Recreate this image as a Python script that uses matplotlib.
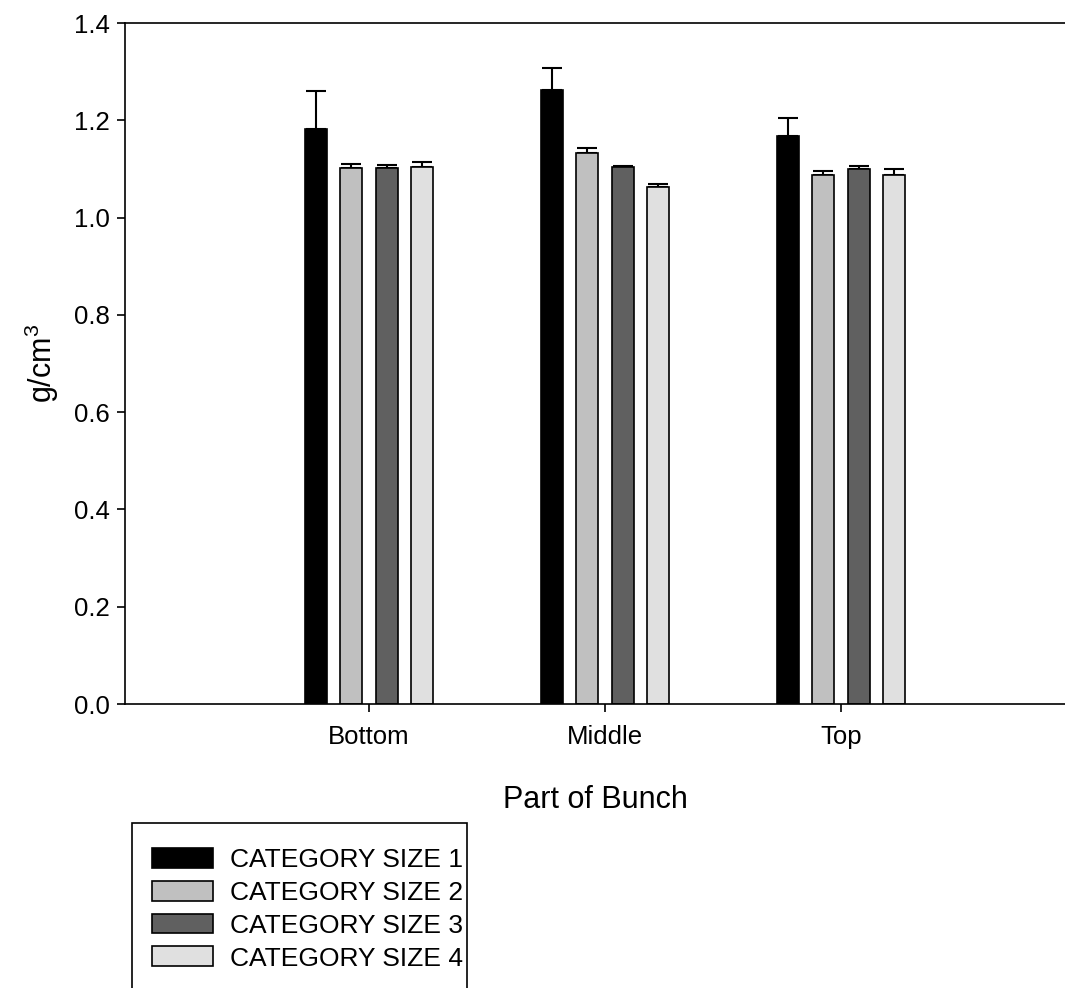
import matplotlib
matplotlib.use("Agg")
import matplotlib.pyplot as plt
import numpy as np
from matplotlib.patches import Rectangle

plt.rcParams['font.family'] = ['Liberation Sans', 'DejaVu Sans']
plt.rcParams['mathtext.fontset'] = 'custom'
plt.rcParams['mathtext.rm'] = 'Liberation Sans'
plt.rcParams['mathtext.it'] = 'Liberation Sans:italic'

categories = ["Bottom", "Middle", "Top"]
series_names = ["CATEGORY SIZE 1", "CATEGORY SIZE 2", "CATEGORY SIZE 3", "CATEGORY SIZE 4"]
size1 = [1.182, 1.262, 1.167]
size2 = [1.102, 1.133, 1.087]
size3 = [1.101, 1.103, 1.099]
size4 = [1.104, 1.063, 1.088]
err1 = [0.078, 0.045, 0.037]
err2 = [0.009, 0.011, 0.009]
err3 = [0.007, 0.004, 0.006]
err4 = [0.011, 0.005, 0.011]
colors = ["#000000", "#c0c0c0", "#606060", "#e0e0e0"]
yticks = [0.0, 0.2, 0.4, 0.6, 0.8, 1.0, 1.2, 1.4]

W, H = 1065, 988
fig = plt.figure(figsize=(W / 100, H / 100), dpi=100)
ax = fig.add_axes([125 / W, 1 - 704 / H, (1065 - 125) / W, (704 - 23) / H])

x = np.arange(len(categories))
step = 0.15
width = 0.093
values = [size1, size2, size3, size4]
errs = [err1, err2, err3, err4]
handles = []
for i, (v, e, c) in enumerate(zip(values, errs, colors)):
    off = (i - 1.5) * step
    b = ax.bar(x + off, v, width, color=c, edgecolor="black", linewidth=1.2,
               label=series_names[i], zorder=2)
    ax.errorbar(x + off, v, yerr=[np.zeros(len(e)), e], fmt="none", ecolor="black",
                elinewidth=1.5, capsize=7.5, capthick=1.5, zorder=1)
    handles.append(b)

ax.set_xlim(-1.034, 2.949)
ax.set_ylim(0, 1.4)
ax.set_yticks(yticks)
ax.set_yticklabels([f"{t:.1f}" for t in yticks])
ax.set_xticks(x)
ax.set_xticklabels(categories)
ax.spines["right"].set_visible(False)
for s in ["left", "bottom", "top"]:
    ax.spines[s].set_linewidth(1.2)
ax.tick_params(axis="both", direction="out", length=6, width=1.2, labelsize=18.5)
ax.tick_params(axis="y", pad=5)
ax.tick_params(axis="x", pad=9)
ax.tick_params(top=False, right=False)

ax.set_xlabel("Part of Bunch", fontsize=22, labelpad=26)
ax.set_ylabel("g/cm$^3$", fontsize=22, labelpad=9)

# legend frame
fig.patches.append(Rectangle((132 / W, -0.05), (467 - 132) / W, (1 - 823 / H) + 0.05,
                             transform=fig.transFigure, facecolor="white",
                             edgecolor="black", linewidth=1.2, zorder=0))
leg = fig.legend(handles=handles, labels=series_names, loc="upper left",
                 bbox_to_anchor=(147 / W, 1 - 843 / H), frameon=False,
                 fontsize=19, handlelength=2.3, handleheight=0.77,
                 handletextpad=0.65, labelspacing=0.33, borderpad=0.2,
                 borderaxespad=0)

fig.savefig("out.png", dpi=100)
